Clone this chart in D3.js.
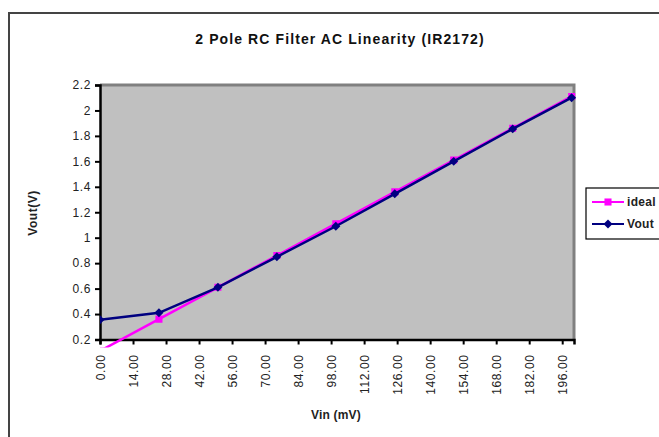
<!DOCTYPE html>
<html>
<head>
<meta charset="utf-8">
<script src="https://cdn.jsdelivr.net/npm/d3@7"></script>
<style>
  body { margin: 0; background: #fff; }
  text { font-family: "Liberation Sans", Arial, sans-serif; }
</style>
</head>
<body>
<svg id="chart" width="659" height="437"></svg>
<script>
'use strict';

// values
var vin = [0, 25, 50, 75, 100, 125, 150, 175, 200];
var ideal = [0.11, 0.36, 0.61, 0.86, 1.11, 1.36, 1.61, 1.86, 2.11];
var vout = [0.355, 0.41, 0.61, 0.85, 1.09, 1.345, 1.60, 1.855, 2.10];
var xTicks = [0, 14, 28, 42, 56, 70, 84, 98, 112, 126, 140, 154, 168, 182, 196];
var yTicks = [0.2, 0.4, 0.6, 0.8, 1, 1.2, 1.4, 1.6, 1.8, 2, 2.2];
var seriesNames = ['ideal', 'Vout'];

var pLeft = 100, pRight = 574, pTop = 85, pBottom = 339.5;

var svg = d3.select('#chart');

// chart area frame
svg.append('rect')
    .attr('x', 9).attr('y', 13)
    .attr('width', 700).attr('height', 500)
    .attr('fill', '#fff')
    .attr('stroke', '#444')
    .attr('stroke-width', 2);

var x = d3.scaleLinear().domain([0, 201]).range([pLeft, pRight]);
var y = d3.scaleLinear().domain([0.2, 2.2]).range([pBottom, pTop]);

// plot area
svg.append('rect')
    .attr('x', pLeft).attr('y', pTop)
    .attr('width', pRight - pLeft).attr('height', pBottom - pTop)
    .attr('fill', '#c0c0c0');
svg.append('path')
    .attr('d', 'M' + pLeft + ',' + pTop + 'H' + pRight + 'V' + pBottom)
    .attr('fill', 'none')
    .attr('stroke', '#808080')
    .attr('stroke-width', 3);

svg.append('text')
    .attr('x', 340).attr('y', 44)
    .attr('text-anchor', 'middle')
    .attr('font-size', 14)
    .attr('font-weight', 'bold')
    .attr('letter-spacing', 1.1)
    .attr('fill', '#111')
    .text('2 Pole RC Filter AC Linearity (IR2172)');

// axes
var yAxis = svg.append('g')
    .attr('transform', 'translate(' + pLeft + ',0)')
    .call(d3.axisLeft(y).tickValues(yTicks).tickSize(5).tickPadding(4)
        .tickFormat(function(d) { return String(+d.toFixed(1)); }));
yAxis.select('.domain').attr('stroke-width', 2.5).attr('stroke', '#000');
yAxis.selectAll('.tick line').attr('stroke-width', 2);
yAxis.selectAll('text')
    .attr('font-size', 12)
    .attr('letter-spacing', 0.6)
    .attr('fill', '#222');

var xAxis = svg.append('g')
    .attr('transform', 'translate(0,' + pBottom + ')')
    .call(d3.axisBottom(x).tickValues(xTicks).tickSize(5).tickFormat(d3.format('.2f')));
xAxis.select('.domain').attr('stroke-width', 2.5).attr('stroke', '#000');
xAxis.selectAll('.tick line').attr('stroke-width', 2);
xAxis.selectAll('text')
    .attr('font-size', 12)
    .attr('letter-spacing', 0.6)
    .attr('fill', '#222')
    .attr('text-anchor', 'end')
    .attr('transform', 'rotate(-90)')
    .attr('x', -15)
    .attr('y', 0)
    .attr('dy', '0.35em');

svg.append('text')
    .attr('transform', 'translate(37,213) rotate(-90)')
    .attr('text-anchor', 'middle')
    .attr('font-size', 12)
    .attr('font-weight', 'bold')
    .attr('letter-spacing', 0.5)
    .attr('fill', '#222')
    .text('Vout(V)');

svg.append('text')
    .attr('x', 336).attr('y', 419)
    .attr('text-anchor', 'middle')
    .attr('font-size', 12)
    .attr('font-weight', 'bold')
    .attr('letter-spacing', 0.2)
    .attr('fill', '#222')
    .text('Vin (mV)');

// series
svg.append('clipPath').attr('id', 'clip')
    .append('rect')
    .attr('x', pLeft).attr('y', pTop - 6)
    .attr('width', pRight - pLeft + 6).attr('height', pBottom - pTop + 14);

var plot = svg.append('g').attr('clip-path', 'url(#clip)');

var line = d3.line()
    .x(function(d) { return x(d[0]); })
    .y(function(d) { return y(d[1]); });

var idealPts = d3.zip(vin, ideal);
var voutPts = d3.zip(vin, vout);

plot.append('path')
    .attr('d', line(idealPts))
    .attr('fill', 'none')
    .attr('stroke', '#ff00ff')
    .attr('stroke-width', 2.5);

plot.selectAll('.sq')
    .data(idealPts)
    .enter().append('path')
    .attr('class', 'sq')
    .attr('transform', function(d) { return 'translate(' + x(d[0]) + ',' + y(d[1]) + ')'; })
    .attr('d', d3.symbol(d3.symbolSquare, 50))
    .attr('fill', '#ff00ff');

plot.append('path')
    .attr('d', line(voutPts))
    .attr('fill', 'none')
    .attr('stroke', '#000080')
    .attr('stroke-width', 2.5);

plot.selectAll('.dm')
    .data(voutPts)
    .enter().append('path')
    .attr('class', 'dm')
    .attr('transform', function(d) { return 'translate(' + x(d[0]) + ',' + y(d[1]) + ') rotate(45)'; })
    .attr('d', d3.symbol(d3.symbolSquare, 40))
    .attr('fill', '#000080');

// legend
var legend = svg.append('g').attr('transform', 'translate(586,188)');
legend.append('rect')
    .attr('x', 0).attr('y', 0)
    .attr('width', 90).attr('height', 51)
    .attr('fill', '#fff')
    .attr('stroke', '#000')
    .attr('stroke-width', 1.2);

var colors = ['#ff00ff', '#000080'];
var item = legend.selectAll('.item')
    .data(seriesNames)
    .enter().append('g')
    .attr('transform', function(d, i) { return 'translate(0,' + (14 + i * 22) + ')'; });
item.append('line')
    .attr('x1', 6).attr('x2', 38)
    .attr('stroke', function(d, i) { return colors[i]; })
    .attr('stroke-width', 2);
item.append('path')
    .attr('transform', function(d, i) { return 'translate(22,0)' + (i ? ' rotate(45)' : ''); })
    .attr('d', function(d, i) { return d3.symbol(d3.symbolSquare, i ? 40 : 50)(); })
    .attr('fill', function(d, i) { return colors[i]; });
item.append('text')
    .attr('x', 41).attr('dy', '0.35em')
    .attr('font-size', 12)
    .attr('font-weight', 'bold')
    .attr('letter-spacing', 0.3)
    .attr('fill', '#222')
    .text(function(d) { return d; });
</script>
</body>
</html>
